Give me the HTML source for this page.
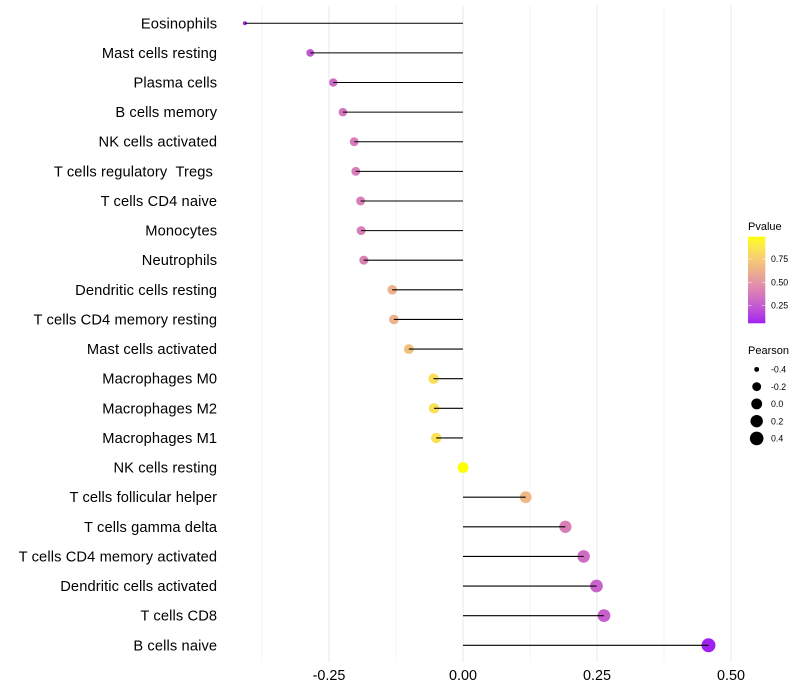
<!DOCTYPE html>
<html>
<head>
<meta charset="utf-8">
<title>Pearson lollipop chart</title>
<style>
html,body{margin:0;padding:0;background:#fff;}
svg{display:block;font-family:"Liberation Sans",Arial,sans-serif;}
</style>
</head>
<body>
<svg id="chart" xmlns="http://www.w3.org/2000/svg" width="800" height="700" viewBox="0 0 800 700">
  <rect width="800" height="700" fill="#fff"/>
  <defs>
    <linearGradient id="pvalue-gradient" x1="0" y1="1" x2="0" y2="0"></linearGradient>
  </defs>
  <g id="grid"></g>
  <g id="points"></g>
  <g id="stems"></g>
  <g id="y-labels"></g>
  <g id="x-labels"></g>
  <g id="legend-color"></g>
  <g id="legend-size"></g>
</svg>
<script>
var categories = ["Eosinophils","Mast cells resting","Plasma cells","B cells memory","NK cells activated","T cells regulatory  Tregs ","T cells CD4 naive","Monocytes","Neutrophils","Dendritic cells resting","T cells CD4 memory resting","Mast cells activated","Macrophages M0","Macrophages M2","Macrophages M1","NK cells resting","T cells follicular helper","T cells gamma delta","T cells CD4 memory activated","Dendritic cells activated","T cells CD8","B cells naive"];
var pearson = [-0.407,-0.285,-0.242,-0.224,-0.203,-0.200,-0.191,-0.190,-0.185,-0.132,-0.129,-0.101,-0.055,-0.054,-0.050,0.000,0.117,0.191,0.225,0.249,0.263,0.458];
var pvalue = [0.07,0.24,0.31,0.36,0.39,0.39,0.40,0.40,0.41,0.63,0.63,0.70,0.84,0.84,0.85,0.99,0.66,0.40,0.32,0.28,0.27,0.06];
var xTicks = [-0.25,0,0.25,0.5];
var xTickLabels = ["-0.25","0.00","0.25","0.50"];
var xMinorTicks = [-0.375,-0.125,0.125,0.375];
var colorTicks = [0.25,0.5,0.75];
var colorTickLabels = ["0.25","0.50","0.75"];
var sizeBreaks = [-0.4,-0.2,0,0.2,0.4];
var sizeBreakLabels = ["-0.4","-0.2","0.0","0.2","0.4"];

var NS = "http://www.w3.org/2000/svg";
function make(tag, attrs, parent, text) {
  var e = document.createElementNS(NS, tag);
  for (var k in attrs) e.setAttribute(k, attrs[k]);
  if (text !== undefined) e.textContent = text;
  parent.appendChild(e);
  return e;
}
function xScale(v) { return 463 + v * 536; }
function yScale(i) { return 23.26 + i * 29.62; }
var pMin = 0.06, pMax = 0.99;
var sMin = Math.min.apply(null, pearson), sMax = Math.max.apply(null, pearson);
function rScale(v) {
  var t = Math.max(0, Math.min(1, (v - sMin) / (sMax - sMin)));
  return 2 + 5 * Math.sqrt(t);
}
function toLab(rgb) {
  var c = rgb.map(function (u) { u /= 255; return u > 0.04045 ? Math.pow((u + 0.055) / 1.055, 2.4) : u / 12.92; });
  var X = (0.4124 * c[0] + 0.3576 * c[1] + 0.1805 * c[2]) / 0.95047;
  var Y = 0.2126 * c[0] + 0.7152 * c[1] + 0.0722 * c[2];
  var Z = (0.0193 * c[0] + 0.1192 * c[1] + 0.9505 * c[2]) / 1.08883;
  var f = function (t) { return t > 0.008856 ? Math.cbrt(t) : 7.787 * t + 16 / 116; };
  return [116 * f(Y) - 16, 500 * (f(X) - f(Y)), 200 * (f(Y) - f(Z))];
}
function fromLab(L) {
  var fy = (L[0] + 16) / 116, fx = fy + L[1] / 500, fz = fy - L[2] / 200;
  var g = function (t) { return t > 0.2069 ? t * t * t : (t - 16 / 116) / 7.787; };
  var X = g(fx) * 0.95047, Y = g(fy), Z = g(fz) * 1.08883;
  var r = 3.2406 * X - 1.5372 * Y - 0.4986 * Z;
  var gg = -0.9689 * X + 1.8758 * Y + 0.0415 * Z;
  var b = 0.0557 * X - 0.2040 * Y + 1.0570 * Z;
  var out = [r, gg, b].map(function (u) {
    u = u > 0.0031308 ? 1.055 * Math.pow(u, 1 / 2.4) - 0.055 : 12.92 * u;
    return Math.round(Math.max(0, Math.min(1, u)) * 255);
  });
  return "rgb(" + out.join(",") + ")";
}
var labLow = toLab([160, 32, 240]), labHigh = toLab([255, 255, 0]);
function colorAt(p) {
  var t = Math.max(0, Math.min(1, (p - pMin) / (pMax - pMin)));
  return fromLab([0, 1, 2].map(function (i) { return labLow[i] + (labHigh[i] - labLow[i]) * t; }));
}

var grid = document.getElementById("grid");
xMinorTicks.forEach(function (v) {
  var l = make("line", { x1: xScale(v), x2: xScale(v), y1: 5, y2: 662, stroke: "#ebebeb", "stroke-width": 0.55 }, grid);
  
  
});
xTicks.forEach(function (v) {
  var l = make("line", { x1: xScale(v), x2: xScale(v), y1: 5, y2: 662, stroke: "#ebebeb", "stroke-width": 1.07 }, grid);
  
  
});

var pointsG = document.getElementById("points"), stemsG = document.getElementById("stems"), yG = document.getElementById("y-labels");
categories.forEach(function (name, i) {
  var y = yScale(i), x = xScale(pearson[i]);
  var c = make("circle", { cx: x, cy: y, r: rScale(pearson[i]), fill: colorAt(pvalue[i]) }, pointsG);
  
  
  var s = make("line", { x1: xScale(0), x2: x, y1: y, y2: y, stroke: "#000", "stroke-width": 1.07 }, stemsG);
  
  
  var t = make("text", { x: 217.2, y: y + 5, "text-anchor": "end", "font-size": 14.67, "letter-spacing": 0.12, fill: "#000", "xml:space": "preserve" }, yG, name);
  t.style.whiteSpace = "pre";
  
  
});

var xG = document.getElementById("x-labels");
xTicks.forEach(function (v, i) {
  var t = make("text", { x: xScale(v), y: 680, "text-anchor": "middle", "font-size": 14.4, fill: "#000" }, xG, xTickLabels[i]);
  
  
});

var grad = document.getElementById("pvalue-gradient");
for (var k = 0; k <= 20; k++) {
  make("stop", { offset: k / 20, "stop-color": colorAt(pMin + (pMax - pMin) * k / 20) }, grad);
}
var lc = document.getElementById("legend-color");
var barTop = 236.7, barBottom = 323.3, barX = 748, barW = 17.3;
function pY(p) { return barBottom - (p - pMin) / (pMax - pMin) * (barBottom - barTop); }
var lt = make("text", { x: 748, y: 230, "font-size": 11, fill: "#000" }, lc, "Pvalue");


var bar = make("rect", { x: barX, y: barTop, width: barW, height: barBottom - barTop, fill: "url(#pvalue-gradient)" }, lc);


colorTicks.forEach(function (p, i) {
  var y = pY(p);
  make("line", { x1: barX, x2: barX + 3.5, y1: y, y2: y, stroke: "#fff", "stroke-width": 0.5 }, lc);
  make("line", { x1: barX + barW - 3.5, x2: barX + barW, y1: y, y2: y, stroke: "#fff", "stroke-width": 0.5 }, lc);
  var t = make("text", { x: 771, y: y + 3.1, "font-size": 8.8, fill: "#000" }, lc, colorTickLabels[i]);
  
  
});

var ls = document.getElementById("legend-size");
var st = make("text", { x: 748, y: 354, "font-size": 11, fill: "#000" }, ls, "Pearson");


sizeBreaks.forEach(function (v, i) {
  var y = 369.4 + i * 17.25;
  var c = make("circle", { cx: 756.7, cy: y, r: rScale(v), fill: "#000" }, ls);
  
  
  var t = make("text", { x: 771, y: y + 3.1, "font-size": 8.8, fill: "#000" }, ls, sizeBreakLabels[i]);
  
  
});
</script>
</body>
</html>
